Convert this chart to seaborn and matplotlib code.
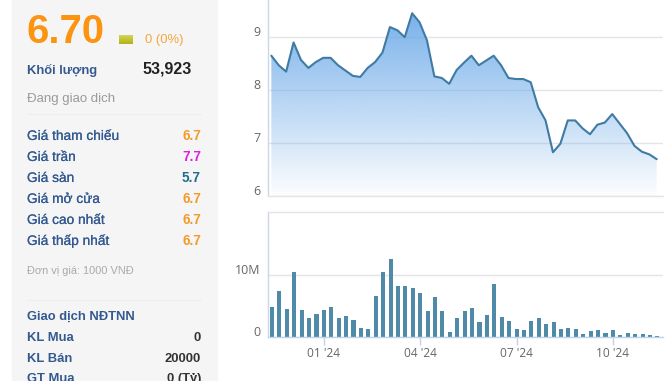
import numpy as np
import pandas as pd
import matplotlib.pyplot as plt
import matplotlib.patheffects as pe
from matplotlib.patches import Rectangle
from matplotlib.transforms import ScaledTranslation
import seaborn as sns

price = [8.65, 8.47, 8.35, 8.90, 8.57, 8.42, 8.53, 8.61, 8.61, 8.47, 8.37, 8.27, 8.25,
         8.42, 8.53, 8.71, 9.19, 9.13, 9.00, 9.45, 9.28, 8.94, 8.26, 8.23, 8.12, 8.38,
         8.52, 8.65, 8.47, 8.56, 8.65, 8.47, 8.23, 8.21, 8.21, 8.15, 7.68, 7.43, 6.83,
         6.99, 7.43, 7.43, 7.28, 7.17, 7.35, 7.39, 7.55, 7.37, 7.19, 6.95, 6.84, 6.79, 6.70]
volume = [4.9, 7.47, 4.57, 10.54, 4.4, 3.1, 3.76, 4.4, 4.9, 3.1, 3.44, 2.8, 1.5,
          1.34, 6.67, 10.54, 12.63, 8.28, 8.28, 7.96, 7.15, 4.25, 6.5, 4.25, 0.86, 3.1,
          4.25, 4.73, 2.47, 3.6, 8.6, 3.28, 2.63, 1.34, 1.18, 2.63, 3.1, 2.15, 2.47,
          1.34, 1.5, 1.34, 0.54, 1.02, 1.18, 0.7, 1.18, 0.38, 0.7, 0.54, 0.54, 0.38, 0.16]
week = list(range(len(price)))
date_ticks = [7, 20, 33, 46]
date_labels = ["01 '24", "04 '24", "07 '24", "10 '24"]
price_ticks = [6, 7, 8, 9]
volume_ticks = [0, 10]
volume_labels = ["0", "10M"]

row_labels = ["Giá tham chiếu", "Giá trần", "Giá sàn", "Giá mở cửa", "Giá cao nhất", "Giá thấp nhất"]
row_values = ["6.7", "7.7", "5.7", "6.7", "6.7", "6.7"]
row_colors = ["#f29b2b", "#e01fe0", "#1f6c8c", "#f29b2b", "#f29b2b", "#f29b2b"]
foreign_labels = ["KL Mua", "KL Bán", "GT Mua"]
foreign_values = ["0", "20000", "0 (Tỷ)"]

W, H = 666, 381
BLUE = "#33598f"
sns.set_style("white")
plt.rcParams["font.family"] = ["Liberation Sans", "DejaVu Sans"]

df = pd.DataFrame({"week": week, "price": price, "volume": volume})
fig = plt.figure(figsize=(W / 100, H / 100), dpi=100)


def put(x, y, s, px=13.7, color=BLUE, weight="normal", ha="left", thick=0.12):
    # x, y in picture pixels, y is the middle of the capitals
    t = fig.text(x / W, 1 - (y + 0.36 * px) / H, s, fontsize=px * 0.72, color=color, weight=weight,
                 ha=ha, va="baseline")
    if thick:
        t.set_path_effects([pe.withStroke(linewidth=thick, foreground=color)])


# left panel
fig.add_artist(Rectangle((12 / W, 0), 205 / W, 1, transform=fig.transFigure, color="#f5f5f6", zorder=-5))
for y in [114, 300]:
    fig.add_artist(plt.Line2D([27 / W, 201 / W], [1 - y / H] * 2, color="#eeeeee", lw=0.8))

put(27, 29, "6.70", px=40, color="#fb9410", weight="bold", thick=0)
swatch = fig.add_axes([119 / W, 1 - 44 / H, 14 / W, 9 / H])
swatch.imshow(np.linspace(0, 1, 9).reshape(-1, 1), aspect="auto",
              cmap=sns.blend_palette(["#d2d25a", "#b4b414"], as_cmap=True))
swatch.axis("off")
put(145, 38.5, "0 (0%)", px=13, color="#f7a63f", thick=0)
put(27, 69, "Khối lượng", px=13, weight="bold", thick=0)
put(192, 68, "53,923", px=16, color="#222222", weight="bold", ha="right", thick=0)
put(27, 97, "Đang giao dịch", px=13.2, color="#9a9a9a", thick=0)

for i, (lab, val, col) in enumerate(zip(row_labels, row_values, row_colors)):
    put(27, 135 + 21 * i, lab)
    put(201, 135 + 21 * i, val, px=13.5, color=col, weight="bold", ha="right", thick=0)
put(27, 270, "Đơn vị giá: 1000 VNĐ", px=11, color="#aaaaaa", thick=0)
put(27, 315, "Giao dịch NĐTNN", px=13, weight="bold", thick=0)
for i, (lab, val) in enumerate(zip(foreign_labels, foreign_values)):
    put(27, 336 + 21 * i - (i == 2), lab, px=13, weight="bold", thick=0)
    put(201, 336 + 21 * i - (i == 2), val, px=13, color="#333333", weight="bold", ha="right", thick=0)

# price chart
ax = fig.add_axes([267.7 / W, 1 - 196.3 / H, 395.6 / W, 196.3 / H])
sns.lineplot(data=df, x="week", y="price", ax=ax, color="#3f7ba3", lw=1.5, zorder=4)
area = ax.fill_between(week, price, 6, facecolor="none", edgecolor="none")
shade = np.zeros((256, 1, 4))
shade[..., :3] = plt.matplotlib.colors.to_rgb("#6aa8e8")
shade[:, 0, 3] = np.linspace(0.9, 0.02, 256)
grad = ax.imshow(shade, extent=(0, 52, 6, max(price)), aspect="auto", origin="upper", zorder=3)
grad.set_clip_path(area.get_paths()[0], transform=ax.transData)
ax.set_xlim(-0.49, 52.89)
ax.set_ylim(6, 9.70)

# volume chart
ax2 = fig.add_axes([267.7 / W, 1 - 337.3 / H, 395.6 / W, 125 / H])
sns.barplot(data=df, x="week", y="volume", ax=ax2, native_scale=True, color="#4f8aa8",
            width=0.55, saturation=1, edgecolor="none", linewidth=0)
ax2.set_xlim(-0.58, 52.8)
ax2.set_ylim(0, 20.2)

for a in (ax, ax2):
    a.set_xlabel("")
    a.set_ylabel("")
    a.set_axisbelow(True)
    a.grid(axis="y", color="#e3e5e8", lw=1)
    a.grid(axis="x", visible=False)
    for s in a.spines.values():
        s.set_visible(True)
        s.set_color("#e3e5e8")
        s.set_linewidth(1)
    a.spines["right"].set_visible(False)
    a.spines["left"].set_color("#ccd6e4")
ax.spines["top"].set_visible(False)
ax2.spines["bottom"].set_color("#c0d4e8")

shift = ScaledTranslation(0, 6 / 100, fig.dpi_scale_trans)
ax.set_xticks([])
ax.set_yticks(price_ticks, [str(t) for t in price_ticks])
ax2.set_yticks(volume_ticks, volume_labels)
ax2.set_xticks(date_ticks, date_labels)
ax2.tick_params(axis="x", bottom=True, length=6, width=1, color="#c0d4e8", pad=1, labelsize=8.6, labelcolor="#666666")
for a in (ax, ax2):
    a.tick_params(axis="y", length=0, pad=5, labelsize=8.9, labelcolor="#666666")
    for lab in a.get_yticklabels():
        lab.set_transform(lab.get_transform() + shift)
for lab in ax2.get_xticklabels() + ax2.get_yticklabels() + ax.get_yticklabels():
    lab.set_family(["Open Sans", "DejaVu Sans"])

fig.savefig("out.png", dpi=100)
plt.close(fig)
